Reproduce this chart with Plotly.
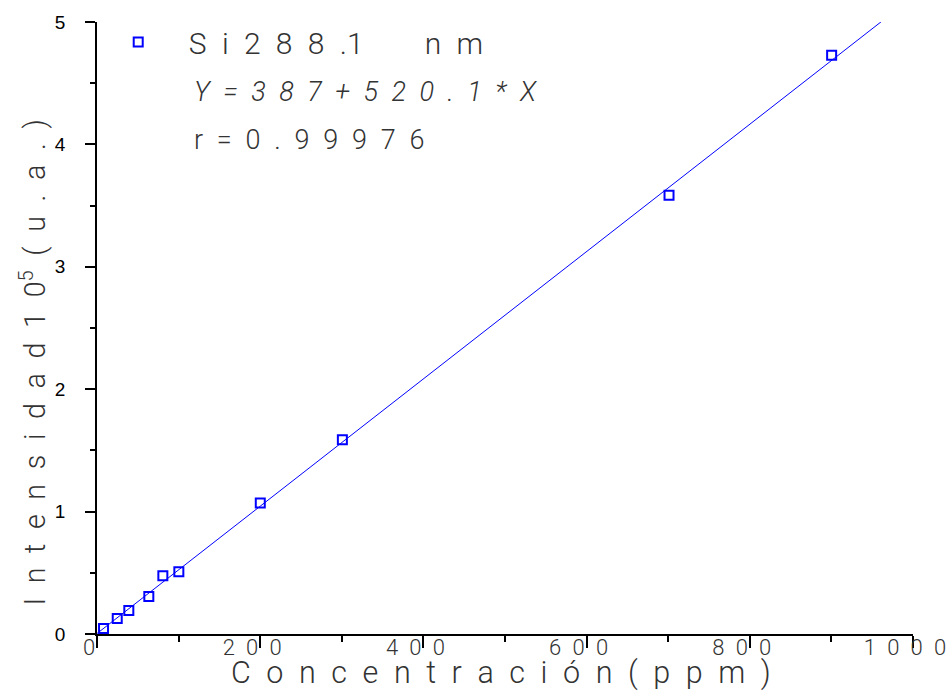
import plotly.graph_objects as go

# Data
concentration = [8.0, 24.8, 39.0, 63.5, 80.7, 100.3, 200.1, 300.7, 701.0, 900.3]
intensity = [0.045, 0.127, 0.192, 0.306, 0.475, 0.508, 1.071, 1.588, 3.584, 4.728]  # x 10^5

fit_intercept = 387.0
fit_slope = 520.1
fit_x = [0, 1000]

x_tickvals = [0, 200, 400, 600, 800, 1000]
x_ticklabels = ["0", "200", "400", "600", "800", "1000"]
y_tickvals = [0, 1, 2, 3, 4, 5]
y_ticklabels = ["0", "1", "2", "3", "4", "5"]

EN = "\u2002"   # en space
NB = "\u00a0"

def spaced(s, sep=EN):
    return sep.join(list(s))

fit_y = [(fit_intercept + fit_slope * x) / 1e5 for x in fit_x]

FONT = "Roboto, Liberation Sans, Arial, sans-serif"
BLUE = "#0000FF"
GREY = "#333333"

legend_name = (EN * 2 + "S" + EN + "i" + EN + spaced("288") + EN + ".1"
               + EN * 4 + "n" + EN + "m")
eq_text = ("<i>Y" + EN + "=" + EN + spaced("387") + EN + "+" + EN + spaced("520.1")
           + EN + "*" + EN + "X</i>")
r_text = "r" + EN + "=" + EN + spaced("0.99976")
y_title = (spaced("Intensidad") + EN + "1" + EN + "0<sup>5</sup>" + EN + spaced("(u.a.)"))
x_title = spaced("Concentración(ppm)")

fig = go.Figure()
fig.add_trace(go.Scatter(
    x=fit_x, y=fit_y, mode="lines",
    line=dict(color=BLUE, width=1), showlegend=False, hoverinfo="skip"))
fig.add_trace(go.Scatter(
    x=concentration, y=intensity, mode="markers", name=legend_name,
    marker=dict(symbol="square-open", size=9, color=BLUE, line=dict(width=2, color=BLUE))))

fig.update_layout(
    width=949, height=694,
    margin=dict(l=97, r=36, t=22, b=60),
    paper_bgcolor="white", plot_bgcolor="white",
    font=dict(family=FONT, color=GREY),
    legend=dict(x=0.026, y=1.010, xanchor="left", yanchor="top",
                bgcolor="rgba(0,0,0,0)",
                font=dict(size=30, family=FONT, color=GREY, weight=300)),
    xaxis=dict(
        range=[0, 1000], showgrid=False, zeroline=False, automargin=False,
        showline=True, linecolor="black", linewidth=2,
        ticks="outside", ticklen=12, tickwidth=1.5, tickcolor="black",
        tickvals=x_tickvals, ticktext=[spaced(t) for t in x_ticklabels],
        tickfont=dict(size=22, family=FONT, color=GREY, weight=300),
        ticklabelstandoff=-19, ticklabelshift=-8,
        minor=dict(dtick=100, tick0=0, ticks="outside", ticklen=6, tickwidth=1.5, tickcolor="black"),
    ),
    yaxis=dict(
        range=[0, 5], showgrid=False, zeroline=False, automargin=False,
        showline=True, linecolor="black", linewidth=2,
        ticks="outside", ticklen=10, tickwidth=1.5, tickcolor="black",
        tickvals=y_tickvals, ticktext=[t + NB * 3 for t in y_ticklabels],
        tickfont=dict(size=19, family="Liberation Sans, Arial, sans-serif", color="black"),
        minor=dict(dtick=0.5, tick0=0, ticks="outside", ticklen=5, tickwidth=1.5, tickcolor="black"),
    ),
    annotations=[
        dict(text=y_title, x=-0.078, y=0.444, xref="paper", yref="paper", textangle=-90,
             xanchor="center", yanchor="middle", showarrow=False,
             font=dict(size=28.7, family=FONT, color=GREY, weight=300)),
        dict(text=x_title, x=0.495, y=-0.063, xref="paper", yref="paper",
             xanchor="center", yanchor="middle", showarrow=False,
             font=dict(size=30.5, family=FONT, color=GREY, weight=300)),
        dict(text=eq_text, x=0.117, y=0.886, xref="paper", yref="paper",
             xanchor="left", yanchor="middle", showarrow=False,
             font=dict(size=27, family=FONT, color=GREY, weight=300)),
        dict(text=r_text, x=0.117, y=0.808, xref="paper", yref="paper",
             xanchor="left", yanchor="middle", showarrow=False,
             font=dict(size=27, family=FONT, color=GREY, weight=300)),
    ],
)

fig.write_html("out.html")
